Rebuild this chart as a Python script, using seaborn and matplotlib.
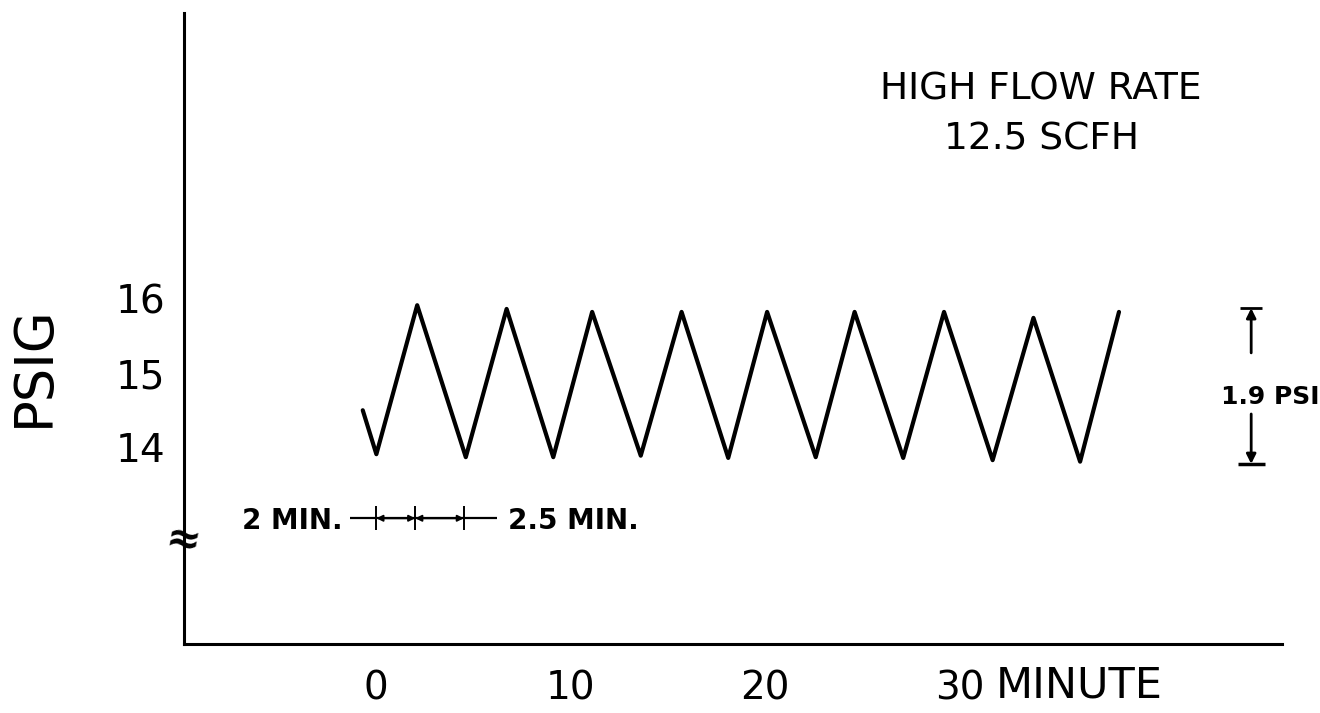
import seaborn as sns
import matplotlib.pyplot as plt

# pressure trace (minutes, psig)
minutes = [-0.7, 0.0, 2.1, 4.6, 6.7, 9.1, 11.1, 13.6, 15.7, 18.1, 20.1,
           22.6, 24.6, 27.1, 29.2, 31.7, 33.8, 36.2, 38.2]
psig = [14.50, 13.91, 15.91, 13.87, 15.86, 13.87, 15.82, 13.89, 15.82, 13.86, 15.82,
        13.87, 15.82, 13.86, 15.82, 13.83, 15.74, 13.81, 15.82]

x_ticks = [0, 10, 20, 30]
y_ticks = [14, 15, 16]

# cycle timing and swing shown by the annotations
rise_min = 2.0
fall_min = 2.5
swing_top = 15.87
swing_bottom = 13.78
swing_label = "1.9 PSI"
title_lines = ["HIGH FLOW RATE", "12.5 SCFH"]

sns.set_style("white")
plt.rcParams['font.family'] = ['DejaVu Sans']
plt.rcParams['text.color'] = 'black'
plt.rcParams['axes.labelcolor'] = 'black'

fig = plt.figure(figsize=(13.2, 7.13), dpi=100)
ax = fig.add_axes([0, 0, 1, 1])

sns.lineplot(x=minutes, y=psig, ax=ax, color="black", linewidth=3,
             estimator=None, sort=False)

ax.set_xlim(-19.36, 48.54)
ax.set_ylim(10.436, 20.007)

# hand-drawn style axes: L shaped, ticks inside
x0, y0 = -9.92, 11.36
for s in ["top", "right"]:
    ax.spines[s].set_visible(False)
ax.spines["left"].set_position(("data", x0))
ax.spines["bottom"].set_position(("data", y0))
ax.spines["left"].set_bounds(y0, 19.83)
ax.spines["bottom"].set_bounds(x0, 46.58)
for s in ["left", "bottom"]:
    ax.spines[s].set_color("black")
    ax.spines[s].set_linewidth(2.2)

ax.set_xticks(x_ticks)
ax.set_yticks(y_ticks)
ax.set_xticklabels([str(v) for v in x_ticks])
ax.set_yticklabels([str(v) for v in y_ticks])
ax.tick_params(axis="both", direction="in", length=16, width=1.6,
               colors="black", labelsize=28)
ax.tick_params(axis="x", pad=18)
ax.tick_params(axis="y", pad=13)

ax.set_xlabel("MINUTE", fontsize=31, ha="left", va="center")
ax.xaxis.set_label_coords(31.85, 10.81, transform=ax.transData)
ax.set_ylabel("PSIG", fontsize=38, ha="center", va="center")
ax.yaxis.set_label_coords(-17.61, 15.09, transform=ax.transData)

# axis break
ax.text(x0, 12.75, "≈", fontsize=30, ha="center", va="center",
        rotation=-10, fontweight="bold")

# title block
ax.text(34.19, 18.80, title_lines[0], fontsize=27, ha="center", va="center")
ax.text(34.19, 18.13, title_lines[1], fontsize=27, ha="center", va="center")

# swing dimension on the right
xd = 45.0
ax.annotate("", xy=(xd, swing_top), xytext=(xd, 15.27),
            arrowprops=dict(arrowstyle="-|>", lw=2, color="black",
                            mutation_scale=14, shrinkA=0, shrinkB=0))
ax.annotate("", xy=(xd, swing_bottom), xytext=(xd, 14.45),
            arrowprops=dict(arrowstyle="-|>", lw=2, color="black",
                            mutation_scale=14, shrinkA=0, shrinkB=0))
ax.hlines(swing_top, xd - 0.56, xd + 0.56, color="black", lw=2)
ax.hlines(swing_bottom, xd - 0.7, xd + 0.7, color="black", lw=2.5)
ax.text(45.97, 14.68, swing_label, fontsize=18, ha="center", va="center",
        fontweight="bold")

# rise / fall time scale bar
yb = 13.05
marks = [0, rise_min, rise_min + fall_min]
ax.hlines(yb, -1.36, 6.2, color="black", lw=1.6)
ax.vlines(marks, yb - 0.16, yb + 0.16, color="black", lw=1.4)
for a, b in zip(marks[:-1], marks[1:]):
    ax.annotate("", xy=(a, yb), xytext=(b, yb),
                arrowprops=dict(arrowstyle="<|-|>", lw=1.4, color="black",
                                mutation_scale=9, shrinkA=0, shrinkB=0))
ax.text(-1.75, 13.01, f"{rise_min:g} MIN.", fontsize=20, ha="right",
        va="center", fontweight="bold")
ax.text(6.75, 13.01, f"{fall_min:g} MIN.", fontsize=20, ha="left",
        va="center", fontweight="bold")

fig.savefig("out.png", dpi=100, facecolor="white")
